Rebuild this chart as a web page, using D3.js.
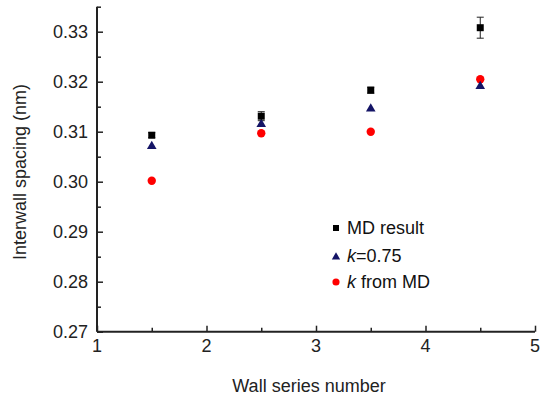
<!DOCTYPE html>
<html><head><meta charset="utf-8">
<script src="https://cdn.jsdelivr.net/npm/d3@7"></script>
<style>body{margin:0;background:#fff;} text{font-family:Arial,"Liberation Sans",sans-serif;}</style>
</head><body><svg id="c" width="540" height="399"></svg>
<script>
const xs = [1.5, 2.5, 3.5, 4.5];
const mdResult = [0.3093, 0.3131, 0.3183, 0.3308];
const mdError = [0.0005, 0.0009, 0.0006, 0.0021];
const k075 = [0.3073, 0.3117, 0.3148, 0.3193];
const kFromMD = [0.3002, 0.3097, 0.3100, 0.3205];
const xTicks = [1, 2, 3, 4, 5];
const yTicks = [0.27, 0.28, 0.29, 0.30, 0.31, 0.32, 0.33];
const legendLabels = ["MD result", "k=0.75", "k from MD"];

const svg = d3.select("#c");
const x = d3.scaleLinear().domain([1, 5]).range([97, 535]);
const y = d3.scaleLinear().domain([0.27, 0.335]).range([331.7, 6.7]);

const axisColor = "#222";
const FS = 18;
svg.append("line").attr("x1", x(1)).attr("x2", x(5)).attr("y1", y(0.27)).attr("y2", y(0.27)).attr("stroke", axisColor).attr("stroke-width", 2);
svg.append("line").attr("x1", x(1)).attr("x2", x(1)).attr("y1", y(0.27)).attr("y2", y(0.335)).attr("stroke", axisColor).attr("stroke-width", 2);

const xAxis = d3.axisTop(x).tickValues(xTicks).tickSize(6).tickFormat("");
const gx = svg.append("g").attr("transform", `translate(0,${y(0.27)})`).call(xAxis);
gx.select(".domain").remove();
gx.selectAll("line").attr("stroke", axisColor).attr("stroke-width", 1.5);
const xMinor = d3.axisTop(x).tickValues([1.5, 2.5, 3.5, 4.5]).tickSize(4).tickFormat("");
const gxm = svg.append("g").attr("transform", `translate(0,${y(0.27)})`).call(xMinor);
gxm.select(".domain").remove();
gxm.selectAll("line").attr("stroke", axisColor).attr("stroke-width", 1.5);
svg.append("g").selectAll("text").data(xTicks).join("text")
  .attr("x", d => x(d)).attr("y", 352).attr("text-anchor", "middle")
  .attr("font-size", FS).attr("fill", "#222").text(d => d);

const yAxis = d3.axisRight(y).tickValues(yTicks).tickSize(6).tickFormat("");
const gy = svg.append("g").attr("transform", `translate(${x(1)},0)`).call(yAxis);
gy.select(".domain").remove();
gy.selectAll("line").attr("stroke", axisColor).attr("stroke-width", 1.5);
const yMinor = d3.axisRight(y).tickValues([0.275, 0.285, 0.295, 0.305, 0.315, 0.325, 0.335]).tickSize(4).tickFormat("");
const gym = svg.append("g").attr("transform", `translate(${x(1)},0)`).call(yMinor);
gym.select(".domain").remove();
gym.selectAll("line").attr("stroke", axisColor).attr("stroke-width", 1.5);
svg.append("g").selectAll("text").data(yTicks).join("text")
  .attr("x", 88).attr("y", d => y(d)).attr("dy", "0.36em").attr("text-anchor", "end")
  .attr("font-size", FS).attr("fill", "#222").text(d => d.toFixed(2));

svg.append("text").attr("x", 309).attr("y", 392).attr("text-anchor", "middle")
  .attr("font-size", FS).attr("fill", "#222").text("Wall series number");
svg.append("text").attr("transform", "translate(26,172) rotate(-90)").attr("text-anchor", "middle")
  .attr("font-size", FS).attr("fill", "#222").text("Interwall spacing (nm)");

const eb = svg.append("g").attr("stroke", "#222").attr("stroke-width", 1);
xs.forEach((xv, i) => {
  const y1 = y(mdResult[i] - mdError[i]), y2 = y(mdResult[i] + mdError[i]);
  eb.append("line").attr("x1", x(xv)).attr("x2", x(xv)).attr("y1", y1).attr("y2", y2);
  eb.append("line").attr("x1", x(xv) - 3.5).attr("x2", x(xv) + 3.5).attr("y1", y1).attr("y2", y1);
  eb.append("line").attr("x1", x(xv) - 3.5).attr("x2", x(xv) + 3.5).attr("y1", y2).attr("y2", y2);
});

const sq = d3.symbol().type(d3.symbolSquare).size(49);
const tri = d3.symbol().type(d3.symbolTriangle).size(40);
const circ = d3.symbol().type(d3.symbolCircle).size(55);

svg.append("g").selectAll("path").data(xs).join("path")
  .attr("transform", (d, i) => `translate(${x(d)},${y(kFromMD[i])})`).attr("d", circ).attr("fill", "#ff0000");
svg.append("g").selectAll("path").data(xs).join("path")
  .attr("transform", (d, i) => `translate(${x(d)},${y(k075[i]) + 1})`).attr("d", tri).attr("fill", "#141466");
svg.append("g").selectAll("path").data(xs).join("path")
  .attr("transform", (d, i) => `translate(${x(d)},${y(mdResult[i])})`).attr("d", sq).attr("fill", "#000");

const lg = svg.append("g");
const ly = [228, 256, 282];
lg.append("path").attr("transform", `translate(336,${ly[0]})`).attr("d", d3.symbol().type(d3.symbolSquare).size(36)).attr("fill", "#000");
lg.append("path").attr("transform", `translate(336,${ly[1]+1})`).attr("d", d3.symbol().type(d3.symbolTriangle).size(30)).attr("fill", "#141466");
lg.append("path").attr("transform", `translate(336,${ly[2]})`).attr("d", d3.symbol().type(d3.symbolCircle).size(40)).attr("fill", "#ff0000");
lg.append("text").attr("x", 347).attr("y", ly[0]).attr("dy", "0.36em").attr("font-size", FS).attr("fill", "#111").text(legendLabels[0]);
const t1 = lg.append("text").attr("x", 347).attr("y", ly[1]).attr("dy", "0.36em").attr("font-size", FS).attr("fill", "#111");
t1.append("tspan").attr("font-style", "italic").text(legendLabels[1].slice(0, 1));
t1.append("tspan").text(legendLabels[1].slice(1));
const t2 = lg.append("text").attr("x", 347).attr("y", ly[2]).attr("dy", "0.36em").attr("font-size", FS).attr("fill", "#111");
t2.append("tspan").attr("font-style", "italic").text(legendLabels[2].slice(0, 1));
t2.append("tspan").text(legendLabels[2].slice(1));
</script></body></html>
